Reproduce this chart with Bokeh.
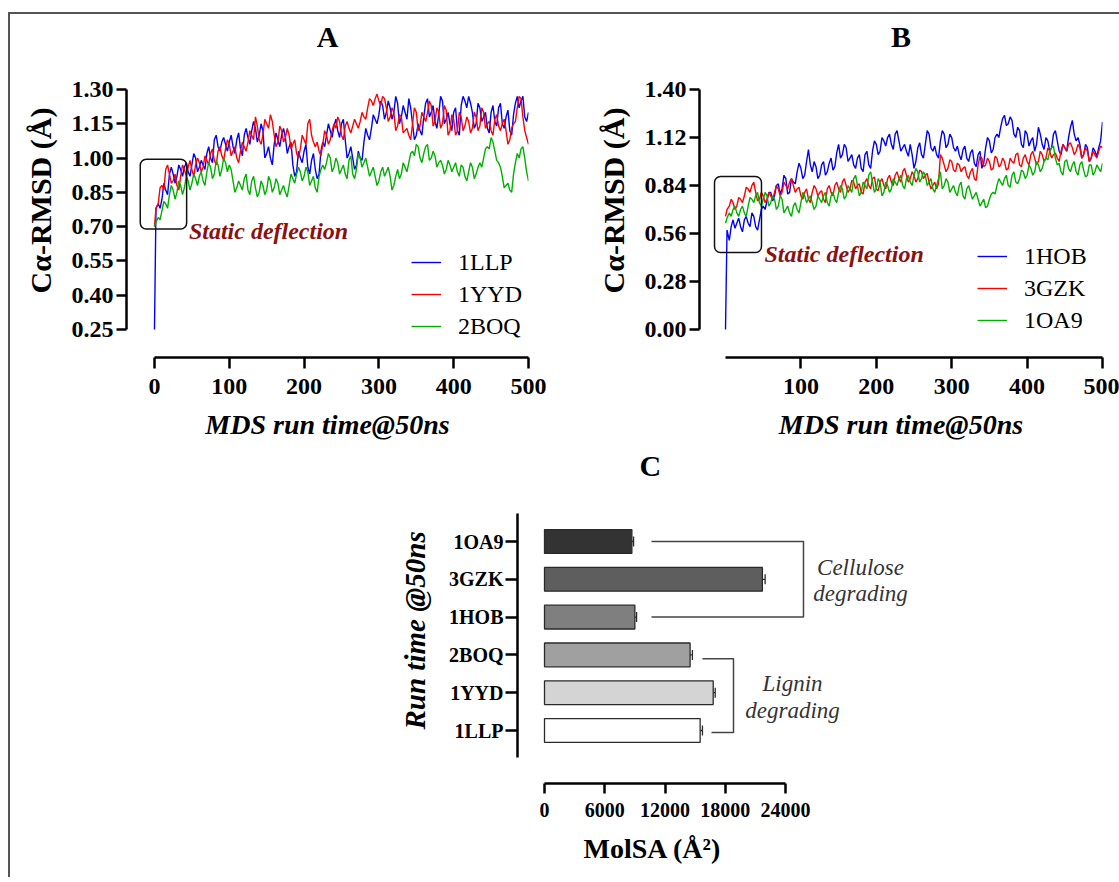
from bokeh.plotting import figure
from bokeh.models import (Range1d, FixedTicker, PrintfTickFormatter, Legend, LegendItem,
                          BoxAnnotation, Label, Whisker, ColumnDataSource, TeeHead, Spacer, Title)
from bokeh.layouts import column, row
from bokeh.embed import file_html
from bokeh.resources import INLINE

SERIF = "Liberation Serif"

# ---------------- data ----------------
# main samples at t = 0, 2, 5, 10, ..., 500 and in-between readings at t = 7.5, 12.5, ..., 497.5
T = [0, 2] + list(range(5, 501, 5))
T_MID = [7.5 + 5 * k for k in range(99)]

A_1LLP = [0.25, 0.78, 0.80,
          0.82, 0.86, 0.93, 0.93, 0.92, 0.95, 0.96, 0.94, 0.97, 1.00, 0.96, 0.97, 1.02, 1.00, 1.08, 1.05, 1.07, 1.06, 1.07,
          1.05, 1.08, 1.04, 1.10, 1.09, 1.12, 1.13, 1.10, 1.12, 1.02, 1.00, 1.06, 1.08, 1.10, 1.09, 1.05, 0.97, 0.94, 1.00, 1.03,
          0.96, 0.99, 0.95, 0.93, 1.07, 1.10, 1.12, 1.14, 1.12, 1.15, 1.08, 1.02, 1.00, 0.97, 1.00, 1.07, 1.10, 1.13, 1.17, 1.19,
          1.23, 1.20, 1.22, 1.20, 1.24, 1.18, 1.20, 1.26, 1.15, 1.10, 1.12, 1.18, 1.26, 1.20, 1.16, 1.19, 1.25, 1.17, 1.15, 1.20,
          1.12, 1.23, 1.25, 1.27, 1.20, 1.15, 1.22, 1.18, 1.13, 1.20, 1.16, 1.22, 1.15, 1.18, 1.12, 1.19, 1.27, 1.25, 1.18, 1.20]
A_1LLP_MID = [0.78, 0.89, 0.84, 0.96, 0.89, 0.97, 0.92, 0.98, 0.92, 1.02, 0.94, 0.99, 0.95, 1.05, 0.98, 1.10, 1.03, 1.09, 1.03,
              1.10, 1.02, 1.11, 1.01, 1.13, 1.06, 1.16, 1.07, 1.15, 1.00, 1.05, 0.97, 1.11, 1.05, 1.13, 1.02, 1.07, 0.92, 1.03, 0.98,
              1.06, 0.93, 1.02, 0.91, 1.03, 1.05, 1.15, 1.09, 1.17, 1.09, 1.17, 1.00, 1.05, 0.95, 1.03, 0.99, 1.13, 1.08, 1.19, 1.15,
              1.25, 1.17, 1.25, 1.17, 1.27, 1.15, 1.23, 1.17, 1.22, 1.08, 1.15, 1.10, 1.24, 1.18, 1.23, 1.13, 1.27, 1.15, 1.20, 1.12,
              1.22, 1.10, 1.27, 1.22, 1.24, 1.13, 1.24, 1.16, 1.20, 1.11, 1.23, 1.14, 1.24, 1.13, 1.21, 1.10, 1.24, 1.22, 1.27, 1.16]
A_1YYD = [0.70, 0.78, 0.80,
          0.88, 0.95, 0.93, 0.90, 0.88, 0.92, 0.95, 0.96, 0.95, 0.97, 0.98, 0.96, 0.99, 1.02, 0.99, 1.03, 1.01, 1.04, 1.06,
          1.03, 1.00, 1.03, 1.05, 1.07, 1.10, 1.18, 1.08, 1.10, 1.15, 1.19, 1.10, 1.07, 1.12, 1.09, 1.10, 1.06, 1.02, 1.04, 1.08,
          1.15, 1.10, 1.05, 1.03, 1.06, 1.10, 1.08, 1.15, 1.18, 1.10, 1.14, 1.13, 1.14, 1.15, 1.16, 1.18, 1.22, 1.25, 1.26, 1.25,
          1.27, 1.22, 1.18, 1.20, 1.14, 1.18, 1.12, 1.10, 1.15, 1.20, 1.14, 1.18, 1.20, 1.23, 1.16, 1.20, 1.15, 1.21, 1.12, 1.17,
          1.12, 1.18, 1.14, 1.16, 1.13, 1.18, 1.14, 1.20, 1.15, 1.12, 1.17, 1.14, 1.15, 1.12, 1.08, 1.15, 1.22, 1.26, 1.12, 1.06]
A_1YYD_MID = [0.87, 0.86, 0.97, 0.89, 0.93, 0.86, 0.97, 0.92, 0.99, 0.92, 1.00, 0.94, 1.01, 0.97, 1.04, 0.97, 1.05, 0.99, 1.08,
              1.01, 1.05, 0.98, 1.07, 1.03, 1.12, 1.08, 1.14, 1.06, 1.17, 1.13, 1.16, 1.05, 1.14, 1.07, 1.13, 1.04, 1.08, 1.00, 1.10,
              1.06, 1.17, 1.07, 1.07, 1.01, 1.12, 1.06, 1.12, 1.13, 1.16, 1.08, 1.16, 1.11, 1.17, 1.13, 1.20, 1.17, 1.26, 1.23, 1.28,
              1.23, 1.26, 1.16, 1.22, 1.12, 1.19, 1.11, 1.13, 1.08, 1.22, 1.12, 1.20, 1.16, 1.25, 1.14, 1.22, 1.13, 1.23, 1.10, 1.19,
              1.10, 1.20, 1.12, 1.18, 1.11, 1.20, 1.12, 1.22, 1.13, 1.16, 1.10, 1.19, 1.12, 1.17, 1.06, 1.13, 1.16, 1.27, 1.18, 1.09]
A_2BOQ = [0.70, 0.72, 0.74,
          0.77, 0.80, 0.84, 0.86, 0.85, 0.88, 0.87, 0.90, 0.89, 0.91, 0.92, 0.90, 0.94, 0.96, 0.93, 0.97, 0.95, 0.98, 0.97,
          0.90, 0.87, 0.88, 0.91, 0.86, 0.90, 0.87, 0.85, 0.88, 0.86, 0.90, 0.87, 0.89, 0.86, 0.85, 0.88, 0.91, 0.93, 0.94, 0.92,
          0.94, 0.90, 0.87, 0.92, 0.97, 0.98, 1.00, 0.96, 0.98, 0.95, 0.93, 0.99, 0.93, 0.95, 1.00, 0.98, 0.96, 0.94, 0.92, 0.90,
          0.96, 0.94, 0.92, 0.88, 0.95, 0.93, 0.96, 0.98, 1.03, 1.06, 1.00, 1.02, 1.06, 1.00, 1.01, 0.98, 0.97, 0.95, 0.97, 0.96,
          0.94, 0.97, 0.92, 0.94, 0.96, 0.93, 0.98, 1.00, 1.05, 1.09, 1.03, 0.98, 0.92, 0.88, 0.86, 0.93, 1.02, 1.04, 1.00, 0.90]
A_2BOQ_MID = [0.73, 0.81, 0.78, 0.88, 0.82, 0.90, 0.84, 0.92, 0.86, 0.93, 0.88, 0.94, 0.88, 0.98, 0.91, 0.99, 0.92, 1.00, 0.94,
              0.95, 0.85, 0.90, 0.86, 0.93, 0.84, 0.92, 0.83, 0.90, 0.84, 0.92, 0.85, 0.91, 0.84, 0.88, 0.83, 0.93, 0.89, 0.96, 0.90,
              0.96, 0.88, 0.92, 0.85, 0.95, 0.95, 1.02, 0.94, 1.00, 0.93, 0.97, 0.91, 1.01, 0.91, 1.02, 0.96, 1.00, 0.92, 0.96, 0.88,
              0.94, 0.92, 0.96, 0.86, 0.92, 0.91, 0.98, 0.94, 1.02, 1.01, 1.05, 0.98, 1.05, 0.99, 1.03, 0.96, 0.99, 0.93, 0.99, 0.94,
              0.98, 0.92, 0.96, 0.90, 0.98, 0.91, 0.96, 0.96, 1.04, 1.04, 1.07, 0.99, 0.96, 0.87, 0.89, 0.85, 0.98, 1.00, 1.05, 0.94]

B_1HOB = [0.00, 0.58, 0.52,
          0.64, 0.62, 0.60, 0.64, 0.62, 0.68, 0.60, 0.64, 0.72, 0.75, 0.80, 0.78, 0.85, 0.82, 0.88, 0.80, 0.86, 0.92, 0.94,
          0.90, 1.05, 0.92, 0.95, 0.90, 0.98, 0.92, 1.00, 0.95, 1.08, 1.02, 1.06, 1.00, 0.96, 1.00, 0.94, 1.02, 0.96, 1.04, 1.08,
          1.04, 1.10, 1.12, 1.08, 1.14, 1.10, 1.06, 1.04, 1.08, 0.94, 1.06, 1.02, 1.08, 1.14, 1.04, 1.02, 1.10, 1.14, 1.08, 1.12,
          1.04, 1.02, 1.05, 1.00, 1.03, 0.97, 1.02, 0.94, 1.06, 1.10, 1.05, 1.14, 1.18, 1.25, 1.20, 1.22, 1.12, 1.16, 1.06, 1.14,
          1.10, 1.04, 1.18, 1.08, 1.12, 1.04, 1.14, 1.10, 1.02, 1.06, 1.12, 1.22, 1.10, 1.08, 1.02, 1.06, 1.00, 1.04, 1.06, 1.21]
B_1HOB_MID = [0.60, 0.59, 0.65, 0.57, 0.66, 0.60, 0.66, 0.58, 0.70, 0.70, 0.80, 0.75, 0.84, 0.79, 0.90, 0.79, 0.88, 0.85, 0.97,
              0.88, 0.98, 0.96, 0.98, 0.88, 0.96, 0.90, 0.97, 0.93, 1.03, 1.00, 1.08, 0.98, 1.02, 0.94, 1.02, 0.92, 1.04, 0.94, 1.10,
              1.02, 1.12, 1.07, 1.14, 1.05, 1.16, 1.04, 1.08, 1.01, 1.02, 0.98, 1.09, 1.00, 1.16, 1.06, 1.07, 1.00, 1.16, 1.06, 1.14,
              1.06, 1.07, 0.99, 1.07, 0.98, 1.05, 0.95, 1.04, 0.97, 1.12, 1.03, 1.12, 1.12, 1.23, 1.19, 1.24, 1.14, 1.18, 1.08, 1.16,
              1.07, 1.12, 1.08, 1.14, 1.05, 1.10, 1.06, 1.16, 1.04, 1.08, 1.04, 1.18, 1.14, 1.12, 1.00, 1.08, 0.98, 1.06, 1.01, 1.10]
B_3GZK = [0.66, 0.70, 0.72,
          0.74, 0.72, 0.76, 0.78, 0.82, 0.84, 0.80, 0.76, 0.78, 0.76, 0.78, 0.80, 0.82, 0.80, 0.84, 0.86, 0.84, 0.82, 0.78,
          0.80, 0.76, 0.80, 0.82, 0.80, 0.76, 0.82, 0.80, 0.84, 0.82, 0.86, 0.84, 0.82, 0.86, 0.84, 0.80, 0.86, 0.84, 0.88, 0.82,
          0.86, 0.84, 0.88, 0.86, 0.90, 0.88, 0.92, 0.90, 0.88, 0.90, 0.88, 0.92, 0.90, 0.86, 0.84, 0.82, 1.02, 0.96, 0.94, 0.98,
          0.92, 0.96, 0.94, 0.90, 0.92, 0.88, 0.96, 1.00, 0.96, 0.98, 0.94, 1.00, 0.96, 0.98, 0.94, 0.98, 1.02, 0.96, 1.00, 0.98,
          1.02, 1.00, 0.98, 1.02, 1.00, 1.04, 1.02, 1.00, 1.04, 1.06, 1.08, 1.06, 1.04, 1.06, 1.02, 1.04, 1.00, 1.02, 1.04, 1.06]
B_3GZK_MID = [0.76, 0.70, 0.77, 0.74, 0.83, 0.80, 0.86, 0.75, 0.80, 0.74, 0.80, 0.76, 0.84, 0.78, 0.86, 0.82, 0.88, 0.80, 0.83,
              0.76, 0.82, 0.74, 0.84, 0.78, 0.81, 0.74, 0.84, 0.78, 0.86, 0.80, 0.88, 0.80, 0.87, 0.82, 0.85, 0.79, 0.88, 0.82, 0.89,
              0.81, 0.88, 0.82, 0.90, 0.84, 0.92, 0.86, 0.94, 0.86, 0.92, 0.86, 0.93, 0.88, 0.91, 0.82, 0.86, 0.85, 1.00, 0.92, 0.99,
              0.93, 0.97, 0.92, 0.95, 0.88, 0.94, 0.87, 1.01, 0.95, 1.00, 0.93, 1.01, 0.95, 1.00, 0.93, 1.00, 0.97, 1.03, 0.95, 1.02,
              0.96, 1.04, 0.96, 1.04, 0.98, 1.06, 1.00, 1.03, 0.98, 1.08, 1.04, 1.09, 1.02, 1.08, 1.00, 1.06, 0.98, 1.04, 1.00, 1.07]
B_1OA9 = [0.62, 0.65, 0.68,
          0.70, 0.68, 0.70, 0.68, 0.72, 0.76, 0.78, 0.74, 0.76, 0.78, 0.74, 0.76, 0.72, 0.76, 0.70, 0.68, 0.72, 0.70, 0.74,
          0.78, 0.76, 0.74, 0.72, 0.76, 0.78, 0.74, 0.78, 0.76, 0.80, 0.82, 0.78, 0.82, 0.88, 0.84, 0.80, 0.84, 0.90, 0.86, 0.82,
          0.86, 0.80, 0.84, 0.82, 0.86, 0.88, 0.84, 0.88, 0.86, 0.90, 0.92, 0.88, 0.90, 0.86, 0.82, 0.84, 0.92, 0.84, 0.86, 0.82,
          0.80, 0.84, 0.78, 0.82, 0.80, 0.78, 0.76, 0.74, 0.71, 0.76, 0.80, 0.84, 0.86, 0.88, 0.84, 0.90, 0.86, 0.88, 0.92, 0.90,
          0.94, 0.92, 0.96, 0.94, 1.00, 1.04, 1.07, 0.96, 0.92, 0.98, 0.94, 0.96, 0.92, 0.96, 0.93, 0.90, 0.96, 0.92, 0.94, 0.97]
B_1OA9_MID = [0.66, 0.72, 0.66, 0.72, 0.66, 0.77, 0.74, 0.80, 0.72, 0.80, 0.72, 0.78, 0.70, 0.78, 0.68, 0.72, 0.66, 0.74, 0.68,
              0.80, 0.74, 0.78, 0.70, 0.78, 0.74, 0.80, 0.72, 0.80, 0.74, 0.84, 0.76, 0.84, 0.80, 0.90, 0.78, 0.86, 0.82, 0.92, 0.80,
              0.88, 0.78, 0.86, 0.80, 0.88, 0.84, 0.90, 0.82, 0.90, 0.84, 0.94, 0.86, 0.92, 0.84, 0.88, 0.80, 0.88, 0.82, 0.88, 0.80,
              0.84, 0.78, 0.86, 0.76, 0.84, 0.76, 0.80, 0.72, 0.76, 0.72, 0.79, 0.79, 0.88, 0.84, 0.90, 0.83, 0.92, 0.85, 0.93, 0.88,
              0.96, 0.90, 0.98, 0.92, 0.98, 0.99, 1.06, 1.00, 0.97, 0.90, 0.99, 0.92, 0.98, 0.90, 0.98, 0.89, 0.96, 0.90, 0.96, 0.92]

A_YTICKS = [0.25, 0.40, 0.55, 0.70, 0.85, 1.00, 1.15, 1.30]
A_XTICKS = [0, 100, 200, 300, 400, 500]
B_YTICKS = [0.00, 0.28, 0.56, 0.84, 1.12, 1.40]
B_XTICKS = [100, 200, 300, 400, 500]

C_NAMES = ["1LLP", "1YYD", "2BOQ", "1HOB", "3GZK", "1OA9"]   # bottom to top
C_MOLSA = [15500, 16800, 14500, 9000, 21700, 8700]
C_ERR = [230, 200, 230, 170, 270, 170]
C_COLORS = ["#ffffff", "#d4d4d4", "#a0a0a0", "#7f7f7f", "#5e5e5e", "#333333"]
C_XTICKS = [0, 6000, 12000, 18000, 24000]

BLUE, RED, GREEN = "#0000ff", "#ff0000", "#00b000"
DARKRED = "#8b1010"


def merged(vals, mids):
    pts = list(zip(T, vals)) + list(zip(T_MID, mids))
    pts.sort(key=lambda q: q[0])
    return [q[0] for q in pts], [q[1] for q in pts]


def style_axes(p):
    p.xgrid.visible = False
    p.ygrid.visible = False
    p.outline_line_color = None
    for ax in (p.xaxis[0], p.yaxis[0]):
        ax.axis_line_width = 2.5
        ax.axis_line_color = "black"
        ax.major_tick_line_width = 2.5
        ax.major_tick_line_color = "black"
        ax.major_tick_in = 0
        ax.minor_tick_line_color = None
        ax.major_label_text_font = SERIF
        ax.major_label_text_font_style = "bold"
        ax.major_label_text_color = "black"
        ax.axis_label_text_font = SERIF
        ax.axis_label_text_color = "black"


def heading(p, letter, gap, align="center", offset=0):
    p.title.text = letter
    p.title.align = align
    p.title.offset = offset
    p.title.text_font = SERIF
    p.title.text_font_size = "30px"
    p.title.text_font_style = "bold"
    p.title.text_color = "black"
    p.title.standoff = 0
    # empty spacer title between the heading and the frame
    p.add_layout(Title(text=" ", text_font_size="2px", standoff=gap), "above")


def side_title(p, text, side, size, style, offset, standoff):
    p.add_layout(Title(text=text, align="left", offset=offset, vertical_align="middle",
                       standoff=standoff, text_font=SERIF, text_font_size=size,
                       text_font_style=style, text_color="black"), side)


def line_panel(letter, series, names, xticks, yticks, xr, yr, ybounds,
               ml, fw, mr, box, text_xy, leg_loc):
    p = figure(frame_width=fw, frame_height=268, min_border_left=ml, min_border_right=mr,
               min_border_top=75, min_border_bottom=88,
               x_range=Range1d(*xr), y_range=Range1d(*yr),
               output_backend="svg", toolbar_location=None)
    heading(p, letter, 33)
    style_axes(p)
    xa, ya = p.xaxis[0], p.yaxis[0]
    xa.bounds = (0, 500)
    xa.ticker = FixedTicker(ticks=xticks)
    xa.major_tick_out = 11
    xa.major_label_standoff = 10
    xa.major_label_text_font_size = "24px"
    xa.axis_label = "MDS run time@50ns"
    xa.axis_label_text_font_size = "28px"
    xa.axis_label_text_font_style = "bold italic"
    xa.axis_label_standoff = 12
    ya.bounds = ybounds
    ya.ticker = FixedTicker(ticks=yticks)
    ya.formatter = PrintfTickFormatter(format="%.2f")
    ya.major_tick_out = 10
    ya.major_label_standoff = 3
    ya.major_label_text_font_size = "24px"
    side_title(p, "C\u03b1-RMSD (\u00c5)", "left", "30px", "bold", 64, 22)

    items = []
    for (vals, mids), name, col in zip(series, names, (BLUE, RED, GREEN)):
        xs, ys = merged(vals, mids)
        r = p.line(xs, ys, line_color=col, line_width=1.4)
        items.append(LegendItem(label=name, renderers=[r]))
    leg = Legend(items=items, location=leg_loc, label_text_font=SERIF,
                 label_text_font_size="24px", label_text_color="black",
                 glyph_width=30, glyph_height=32,
                 label_height=32, label_standoff=17, spacing=0, padding=0, margin=0,
                 border_line_color=None, background_fill_alpha=0)
    p.add_layout(leg, "center")

    b = BoxAnnotation(left=box[0], right=box[1], bottom=box[2], top=box[3],
                      fill_alpha=0, line_color="#111111", line_alpha=1.0, line_width=1.5)
    try:
        b.border_radius = 6
    except Exception:
        pass
    p.add_layout(b)
    p.add_layout(Label(x=text_xy[0], y=text_xy[1], text="Static deflection",
                       text_font=SERIF, text_font_style="bold italic",
                       text_font_size="24px", text_color=DARKRED,
                       text_baseline="middle", text_align="left"))
    return p


pA = line_panel("A", [(A_1LLP, A_1LLP_MID), (A_1YYD, A_1YYD_MID), (A_2BOQ, A_2BOQ_MID)],
                ["1LLP", "1YYD", "2BOQ"],
                A_XTICKS, A_YTICKS, (-37.4, 500), (0.1275, 1.30), (0.25, 1.30),
                116, 402, 32, (-19, 43, 0.69, 0.995), (46, 0.679), (285, 15))
pB = line_panel("B", [(B_1HOB, B_1HOB_MID), (B_3GZK, B_3GZK_MID), (B_1OA9, B_1OA9_MID)],
                ["1HOB", "3GZK", "1OA9"],
                B_XTICKS, B_YTICKS, (-34.5, 500), (-0.1633, 1.40), (0.0, 1.40),
                139, 403, 17, (-14.6, 47.7, 0.449, 0.893), (51.7, 0.443), (278, 21))

# ---------------- panel C ----------------
pos = list(range(len(C_NAMES)))
pC = figure(frame_width=413, frame_height=270, min_border_left=135, min_border_right=10,
            min_border_top=68, min_border_bottom=10,
            x_range=Range1d(-2689, 38440), y_range=Range1d(-1.402, 5.741),
            output_backend="svg", toolbar_location=None)
heading(pC, "C", 28, align="left", offset=122)
style_axes(pC)
src = ColumnDataSource(dict(y=pos, v=C_MOLSA, up=[v + e for v, e in zip(C_MOLSA, C_ERR)],
                            color=C_COLORS))
pC.hbar(y="y", left=0, right="v", height=0.63, fill_color="color", line_color="#2a2a2a",
        line_width=1.3, source=src)
pC.add_layout(Whisker(source=src, base="y", lower="v", upper="up", dimension="width",
                      line_color="#2a2a2a", line_width=1.3, lower_head=None,
                      upper_head=TeeHead(size=10, line_color="#2a2a2a", line_width=1.3)))
xa, ya = pC.xaxis[0], pC.yaxis[0]
xa.bounds = (0, 24000)
xa.ticker = FixedTicker(ticks=C_XTICKS)
xa.formatter = PrintfTickFormatter(format="%d")
xa.major_tick_out = 10
xa.major_label_standoff = 9
xa.major_label_text_font_size = "20px"
ya.bounds = (-0.71, 5.74)
ya.ticker = FixedTicker(ticks=pos)
ya.major_label_overrides = {i: n for i, n in zip(pos, C_NAMES)}
ya.major_tick_out = 12
ya.major_label_standoff = 2
ya.major_label_text_font_size = "20px"
side_title(pC, "Run time @50ns", "left", "29px", "bold italic", 54, 30)
side_title(pC, "MolSA (\u00c5\u00b2)", "below", "28px", "bold", 66, 25)

# group brackets and labels
pC.line([10656, 25792, 25792, 10656], [5, 5, 3, 3], line_color="#444444", line_width=1.5)
pC.line([15734, 18822, 18822, 16631], [1.9, 1.9, -0.05, -0.05], line_color="#444444", line_width=1.5)
for x, y, t in [(31469, 4.31, "Cellulose"), (31469, 3.62, "degrading"),
                (24697, 1.24, "Lignin"), (24697, 0.53, "degrading")]:
    pC.add_layout(Label(x=x, y=y, text=t, text_font=SERIF, text_font_style="italic",
                        text_font_size="23px", text_color="#333333",
                        text_align="center", text_baseline="middle"))

layout = column(row(pA, pB), row(Spacer(width=372, height=10), pC),
                margin=(12, 0, 0, 8),
                styles={"border-left": "2px solid #555555", "border-top": "2px solid #555555"})

open("out.html", "w").write(file_html(layout, INLINE))
